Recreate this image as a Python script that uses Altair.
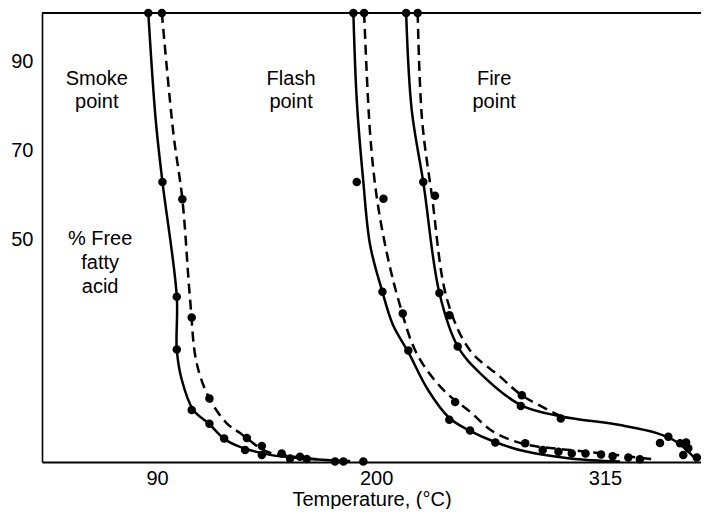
import altair as alt
import pandas as pd

# ---- data (Temperature °C, % free fatty acid) ----
# fitted curves
smoke_solid_x = [85.6, 89.3, 92.7, 99.9, 99.9, 102.4, 108.2, 116.1, 123.7, 131.7, 146.8, 166.9, 187.0]
smoke_solid_y = [101, 77.0, 63.0, 37.2, 25.3, 18.5, 11.7, 8.6, 5.2, 3.4, 1.6, 0.7, 0.2]
smoke_dash_x = [92.4, 98.2, 102.7, 106.6, 109.9, 116.3, 125.0, 131.7, 145.2, 158.9, 170.6]
smoke_dash_y = [101, 73.9, 59.1, 36.5, 22.2, 14.3, 8.7, 6.5, 2.3, 1.2, 0.6]
flash_solid_x = [188.6, 190.3, 193.6, 197.0, 202.9, 208.5, 216.2, 226.1, 236.8, 247.2, 259.7, 274.8, 297.4, 322.5]
flash_solid_y = [101, 81.4, 63.0, 48.8, 38.7, 30.8, 24.7, 16.2, 9.9, 7.0, 4.5, 2.4, 0.8, 0.1]
flash_dash_x = [194.0, 197.0, 200.3, 205.4, 211.2, 220.4, 233.8, 247.2, 258.9, 274.8, 297.4, 314.2, 339.3]
flash_dash_y = [101, 73.9, 59.7, 47.0, 36.5, 24.4, 16.2, 11.3, 6.8, 4.0, 2.7, 1.9, 0.6]
fire_solid_x = [215.1, 217.9, 223.8, 231.8, 241.0, 252.2, 272.7, 292.4, 322.5, 341.0, 351.0, 361.1]
fire_solid_y = [101, 79.2, 62.7, 38.0, 26.0, 20.0, 12.8, 10.3, 8.3, 6.5, 4.5, 0.4]
fire_dash_x = [220.9, 223.1, 228.1, 235.7, 247.2, 262.3, 273.2, 292.8]
fire_dash_y = [101, 77.0, 59.7, 36.5, 25.1, 19.2, 15.0, 10.3]

# measured points
dots_x = [85.6, 92.7, 99.9, 99.9, 107.4, 116.3, 123.7, 134.2, 142.6, 156.8, 165.2, 179.4, 183.6, 193.6,
          92.4, 102.7, 107.4, 116.3, 135.1, 142.6, 152.6, 161.8,
          188.6, 190.3, 203.2, 216.2, 236.8, 247.2, 259.9,
          194.0, 203.7, 213.4, 239.7, 274.9, 283.7, 291.6, 298.3, 305.2, 313.0, 318.8, 326.7, 332.5,
          215.1, 223.7, 231.8, 241.0, 272.7, 292.8, 342.6, 346.8, 352.7, 355.7, 356.8, 354.3, 361.1,
          220.9, 229.6, 236.8, 273.2]
dots_y = [101, 63.0, 37.2, 25.3, 11.7, 8.6, 5.3, 2.7, 1.6, 0.8, 0.7, 0.1, 0.1, 0.1,
          101, 59.1, 32.5, 14.3, 5.4, 3.6, 1.9, 1.2,
          101, 63.0, 38.3, 25.1, 9.5, 7.1, 4.4,
          101, 59.2, 33.4, 13.5, 4.2, 2.7, 2.3, 1.9, 1.9, 1.7, 1.3, 1.0, 0.6,
          101, 63.0, 38.0, 26.0, 12.6, 9.8, 4.3, 5.7, 4.2, 4.4, 3.1, 1.6, 1.0,
          101, 59.9, 33.0, 15.0]

# annotations
label_text = ["Smoke", "point", "Flash", "point", "Fire", "point", "% Free", "fatty", "acid"]
label_x = [59.7, 59.7, 157.3, 157.3, 259.3, 259.3, 61.4, 61.4, 61.4]
label_y = [86.1, 81.0, 86.1, 81.0, 86.1, 81.0, 50.1, 44.7, 39.4]

x_ticks = [90, 200, 315]
y_ticks = [50, 70, 90]

FONT = "Liberation Sans"


def curve(name, xs, ys):
    return pd.DataFrame({"series": name, "x": xs, "y": ys, "i": range(len(xs))})


solid = pd.concat([curve("smoke", smoke_solid_x, smoke_solid_y),
                   curve("flash", flash_solid_x, flash_solid_y),
                   curve("fire", fire_solid_x, fire_solid_y)])
dashed = pd.concat([curve("smoke", smoke_dash_x, smoke_dash_y),
                    curve("flash", flash_dash_x, flash_dash_y),
                    curve("fire", fire_dash_x, fire_dash_y)])
dots = pd.DataFrame({"x": dots_x, "y": dots_y})
labels = pd.DataFrame({"t": label_text, "x": label_x, "y": label_y})

xs = alt.Scale(domain=[32.2, 363.2], nice=False, zero=False)
ys = alt.Scale(domain=[0, 101], nice=False, zero=False)

X = alt.X("x:Q", scale=xs, title="Temperature, (°C)",
          axis=alt.Axis(values=x_ticks, ticks=False, grid=False, labelPadding=6,
                        titlePadding=1, domainWidth=2.2, format="d"))
Y = alt.Y("y:Q", scale=ys, title=None,
          axis=alt.Axis(values=y_ticks, ticks=False, grid=False, labelPadding=9,
                        domainWidth=1.6, format="d"))

solid_lines = alt.Chart(solid).mark_line(
    color="black", strokeWidth=2.5, interpolate="catmull-rom"
).encode(x=X, y=Y, detail="series:N", order="i:Q")

dashed_lines = alt.Chart(dashed).mark_line(
    color="black", strokeWidth=2.5, strokeDash=[10, 6], interpolate="catmull-rom"
).encode(x=X, y=Y, detail="series:N", order="i:Q")

points = alt.Chart(dots).mark_circle(color="black", opacity=1, size=72).encode(x=X, y=Y)

top_line = alt.Chart(dots).mark_rule(color="black", strokeWidth=1.5).encode(y=alt.datum(101))

texts = alt.Chart(labels).mark_text(
    font=FONT, fontSize=20, color="black", align="center", baseline="middle"
).encode(x=X, y=Y, text="t:N")

chart = alt.layer(top_line, solid_lines, dashed_lines, points, texts).properties(
    width=659, height=449,
    autosize=alt.AutoSizeParams(type="none"),
    padding={"left": 34, "top": 5, "right": 0, "bottom": 47},
).configure_view(stroke=None).configure_axis(
    labelFont=FONT, labelFontSize=20, labelColor="black",
    titleFont=FONT, titleFontSize=20, titleColor="black", titleFontWeight="normal",
    domainColor="black"
)

chart.save("out.html", embed_options={"renderer": "svg", "actions": False})
